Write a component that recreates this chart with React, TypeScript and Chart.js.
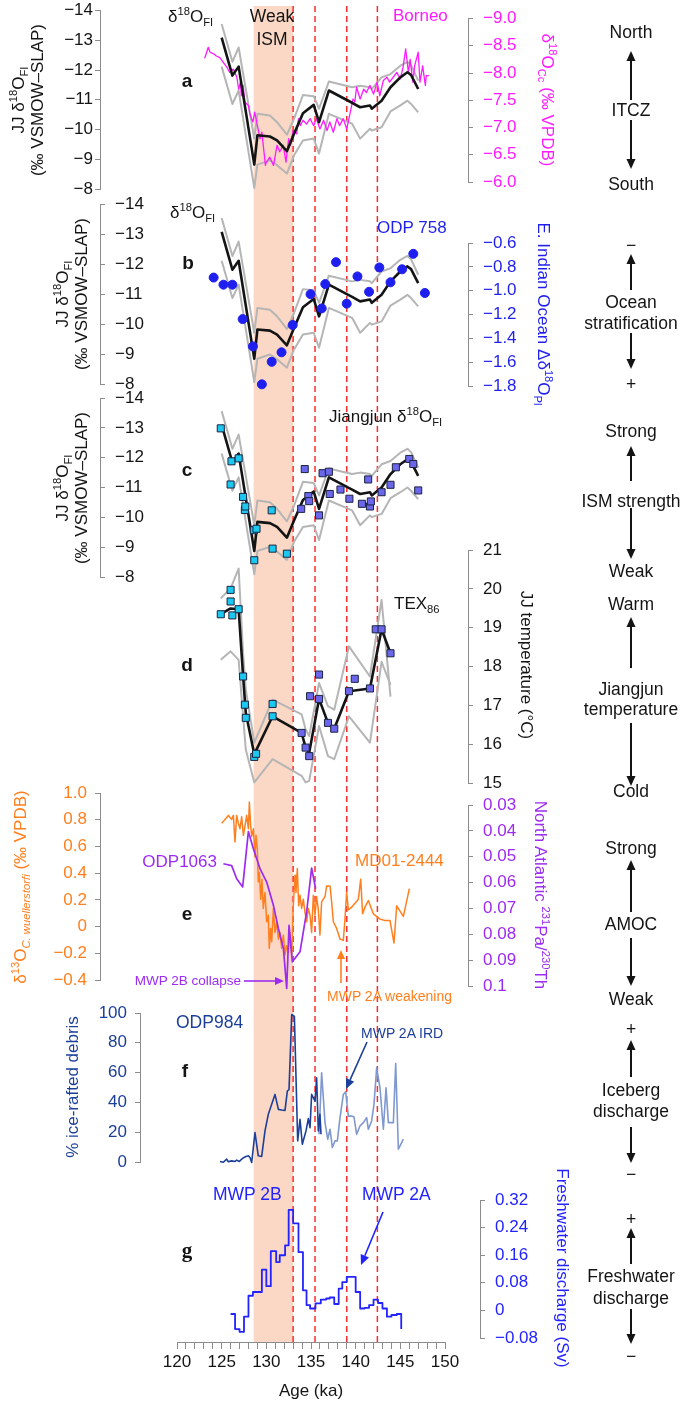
import React, { useEffect, useRef } from "react";
import { Chart, registerables } from "chart.js";

Chart.register(...registerables);

// ---------------- data ----------------
const weakIsmBand = [128.55, 133.0];
const dashedAges = [133.0, 135.45, 139.0, 142.43];

// Jiangjun JJ d18O fluid inclusion (mean and envelope)
const fiAge = [125.0, 126.2, 126.9, 128.65, 129.0, 130.4, 131.2, 132.3, 133.1, 134.1, 135.3, 135.9, 137.0, 139.6, 140.5, 141.6, 141.8, 142.9, 143.9, 145.0, 145.8, 146.2, 147.0];
const fiMean = [-13.24, -11.97, -12.27, -8.99, -9.97, -9.93, -9.8, -9.44, -10.02, -10.71, -10.99, -10.41, -11.47, -11.06, -10.91, -10.97, -10.86, -11.13, -11.58, -11.91, -12.08, -11.99, -11.52];
const fiHigh = [-13.7, -12.43, -12.91, -9.86, -10.69, -10.63, -10.41, -9.99, -10.52, -11.32, -11.28, -10.86, -11.77, -11.58, -11.63, -11.58, -11.52, -11.91, -12.02, -12.3, -12.43, -12.32, -11.8];
const fiLow = [-12.27, -11.02, -11.47, -8.21, -8.99, -9.13, -8.97, -8.69, -9.3, -9.8, -9.86, -9.36, -10.69, -10.36, -9.86, -10.19, -10.13, -10.24, -10.77, -10.97, -11.13, -11.02, -10.74];

// Borneo speleothem d18O
const borneoAge = [123.1, 123.5, 123.7, 124.1, 124.4, 124.8, 125.2, 125.6, 125.9, 126.3, 126.7, 126.9, 127.1, 127.2, 127.4, 127.6, 128.0, 128.2, 128.5, 128.7, 129.0, 129.3, 129.5, 129.9, 130.0, 130.4, 130.8, 131.2, 131.5, 131.9, 132.2, 132.5, 132.7, 133.0, 133.4, 133.6, 133.8, 134.1, 134.5, 134.9, 135.3, 135.6, 136.0, 136.4, 136.8, 137.1, 137.5, 137.9, 138.2, 138.6, 139.0, 139.4, 139.7, 139.9, 140.1, 140.5, 140.9, 141.2, 141.6, 142.0, 142.4, 142.7, 143.1, 143.5, 143.8, 144.2, 144.6, 145.0, 145.3, 145.6, 145.9, 146.1, 146.4, 146.6, 147.0, 147.2, 147.5, 147.8, 147.9, 148.2];
const borneoD18O = [-8.37, -8.57, -8.48, -8.45, -8.41, -8.38, -8.29, -8.2, -8.11, -8.17, -8.02, -7.8, -7.93, -7.68, -7.87, -7.56, -7.5, -7.32, -7.2, -7.38, -7.13, -6.89, -7.01, -6.4, -6.46, -6.55, -6.4, -6.77, -6.65, -6.77, -6.46, -6.89, -6.77, -7.04, -6.98, -7.26, -7.13, -7.23, -7.16, -7.26, -7.13, -7.26, -7.07, -7.23, -7.04, -7.2, -7.01, -7.26, -7.13, -7.26, -7.07, -7.38, -7.62, -7.56, -7.84, -7.62, -7.8, -7.74, -7.87, -7.71, -7.93, -7.68, -7.96, -8.02, -7.93, -8.02, -8.11, -7.99, -8.2, -8.54, -8.11, -8.35, -7.93, -8.23, -8.48, -7.93, -8.23, -7.87, -8.05, -8.05];

// ODP 758 E. Indian Ocean
const odp758Age = [124.1, 125.2, 126.2, 127.35, 128.5, 129.5, 130.6, 131.7, 132.95, 134.95, 136.2, 136.6, 137.8, 139.0, 140.2, 141.5, 142.65, 143.9, 145.2, 146.45, 147.75];
const odp758Val = [-0.85, -0.91, -0.91, -1.2, -1.43, -1.75, -1.56, -1.48, -1.25, -0.99, -1.11, -0.905, -0.72, -1.07, -0.84, -0.97, -0.765, -0.89, -0.78, -0.65, -0.98];

// Jiangjun individual d18O_FI samples
const jjCyanAge = [124.9, 126.0, 126.1, 126.9, 127.4, 127.6, 127.65, 128.6, 128.65, 128.9, 130.6, 130.7, 132.3];
const jjCyanVal = [-13.12, -11.23, -12.01, -12.11, -10.81, -10.37, -10.49, -9.69, -8.68, -9.74, -10.36, -9.07, -8.9];
const jjPurpleAge = [133.9, 134.3, 134.7, 134.8, 135.9, 136.3, 137.0, 137.1, 138.3, 139.3, 140.7, 141.4, 141.6, 141.7, 142.9, 143.9, 144.5, 146.0, 146.45, 147.0];
const jjPurpleVal = [-10.41, -11.75, -10.84, -10.67, -10.19, -11.61, -11.66, -10.91, -11.06, -10.75, -10.58, -11.4, -10.49, -10.66, -10.97, -11.22, -11.81, -12.09, -11.92, -11.03];

// TEX86 temperature
const texAge = [124.9, 126.0, 126.9, 127.4, 127.7, 128.65, 130.7, 133.95, 134.4, 134.8, 135.9, 136.9, 137.6, 139.25, 141.6, 142.9, 143.9];
const texMean = [19.43, 19.58, 19.56, 17.82, 16.88, 15.81, 16.79, 16.36, 15.98, 15.85, 17.24, 16.62, 16.47, 17.44, 17.51, 19.04, 18.42];
const texHigh = [19.84, 20.1, 20.61, 18.42, 17.48, 16.11, 17.22, 16.84, 16.45, 16.28, 17.65, 17.05, 16.96, 18.6, 17.82, 19.8, 17.3];
const texLow = [18.25, 18.47, 18.25, 16.79, 15.93, 15.08, 15.68, 15.25, 15.08, 15.12, 16.54, 15.76, 15.68, 16.79, 16.11, 18.2, 17.6];
const texCyanAge = [124.9, 126.0, 126.0, 126.2, 126.9, 127.4, 127.6, 127.7, 128.65, 128.85, 130.7, 130.7];
const texCyanVal = [19.43, 19.76, 20.06, 19.4, 19.56, 17.82, 17.09, 16.75, 15.74, 15.82, 17.11, 16.79];
const texPurpleAge = [133.95, 134.4, 134.8, 134.9, 135.9, 135.9, 136.9, 137.6, 139.25, 139.9, 141.6, 142.25, 142.9, 143.9];
const texPurpleVal = [16.36, 15.98, 15.76, 17.31, 17.87, 17.24, 16.62, 16.47, 17.44, 17.76, 17.51, 19.04, 19.04, 18.42];

// MD01-2444 d13C
const mdAge = [125.0, 125.75, 126.12, 126.31, 126.49, 126.68, 126.87, 127.05, 127.24, 127.43, 127.61, 127.8, 127.99, 128.1, 128.25, 128.36, 128.55, 128.73, 128.84, 128.99, 129.1, 129.22, 129.37, 129.51, 129.66, 129.85, 130.04, 130.22, 130.33, 130.48, 130.6, 130.79, 130.97, 131.16, 131.35, 131.53, 131.72, 131.91, 132.09, 132.28, 132.46, 132.65, 132.84, 133.02, 133.21, 133.32, 133.47, 133.62, 133.77, 133.95, 134.14, 134.33, 134.51, 134.7, 134.89, 135.07, 135.26, 135.45, 135.63, 135.82, 136.0, 136.19, 136.38, 136.57, 136.75, 137.13, 137.31, 137.5, 137.87, 138.24, 138.62, 138.8, 138.99, 139.18, 139.55, 140.3, 140.56, 140.78, 141.04, 141.42, 141.98, 142.72, 143.28, 143.84, 144.29, 144.59, 145.34, 146.01];
const mdD13C = [0.79, 0.85, 0.82, 0.85, 0.65, 0.85, 0.79, 0.75, 0.84, 0.7, 0.77, 0.85, 0.75, 0.95, 0.77, 0.69, 0.75, 0.54, 0.7, 0.6, 0.35, 0.42, 0.22, 0.37, 0.15, 0.27, 0.05, 0.1, -0.15, 0.0, -0.1, 0.15, -0.03, 0.05, -0.08, -0.03, -0.15, -0.05, -0.2, -0.13, -0.18, -0.03, -0.2, 0.17, 0.4, 0.27, 0.45, 0.17, 0.25, 0.15, 0.22, 0.12, 0.05, 0.15, 0.1, -0.03, 0.25, 0.1, 0.24, 0.14, -0.05, 0.2, 0.22, 0.24, 0.32, 0.32, 0.2, 0.05, 0.0, -0.08, -0.09, 0.07, 0.27, 0.14, 0.16, 0.22, 0.37, 0.11, 0.16, 0.21, 0.11, 0.07, 0.06, 0.06, -0.11, 0.17, 0.09, 0.3];

// ODP1063 Pa/Th
const paAge = [125.19, 126.12, 126.68, 127.35, 127.99, 128.55, 129.29, 130.04, 130.79, 131.35, 131.91, 132.28, 132.54, 132.91, 133.77, 134.51, 135.07, 135.52];
const paTh = [0.0519, 0.0526, 0.0577, 0.0609, 0.0394, 0.0461, 0.0538, 0.059, 0.068, 0.077, 0.0848, 0.1003, 0.0758, 0.09, 0.0861, 0.0706, 0.0536, 0.0616];

// ODP984 ice-rafted debris
const irdDarkAge = [124.81, 125.19, 125.56, 125.75, 126.12, 126.49, 126.68, 126.98, 127.24, 127.5, 127.72, 127.99, 128.17, 128.36, 128.73, 129.1, 129.48, 129.85, 130.22, 130.6, 130.97, 131.35, 131.72, 132.09, 132.35, 132.54, 132.84, 133.14, 133.51, 133.77, 134.03, 134.44, 134.7, 134.89, 135.07, 135.45, 135.63, 135.82, 136.0, 136.12];
const irdDarkVal = [0.9, 0.4, 2.5, 0.7, 1.3, 0.9, 1.8, 0.9, 2.5, 3.6, 4.3, 4.7, 3.6, 0.2, 20.4, 4.7, 4.3, 21.5, 32.7, 39.4, 46.1, 36.0, 35.6, 35.3, 48.3, 49.4, 100, 98.7, 14.8, 29.3, 12.5, 21.5, 29.8, 23.7, 46.1, 41.6, 57.3, 21.5, 32.7, 19.2];
const irdLightAge = [135.9, 136.19, 136.57, 136.87, 137.13, 137.39, 137.69, 137.95, 138.25, 138.62, 138.88, 139.18, 139.55, 139.81, 140.11, 140.48, 140.86, 141.23, 141.42, 141.79, 142.05, 142.35, 142.72, 143.1, 143.4, 143.66, 144.22, 144.48, 144.78, 145.34];
const irdLightVal = [19.2, 60.6, 27.1, 15.9, 22.6, 10.3, 14.8, 14.8, 30.4, 46.1, 47.9, 31.5, 31.5, 30.9, 19.2, 24.8, 27.1, 30.4, 22.6, 28.2, 39.4, 64.0, 50.6, 22.6, 50.6, 27.1, 27.1, 66.9, 9.2, 15.9];

// Freshwater discharge (stepped)
const fwAge = [126.0, 126.5, 127.0, 127.5, 128.0, 128.5, 129.5, 130.0, 130.5, 131.1, 131.5, 132.1, 132.5, 133.0, 133.6, 134.1, 134.5, 134.9, 135.5, 136.1, 136.7, 137.1, 137.6, 138.1, 138.5, 139.0, 140.0, 140.5, 141.0, 141.5, 142.0, 142.5, 143.0, 143.5, 144.0, 144.6, 145.1];
const fwSv = [-0.01, -0.054, -0.062, -0.018, 0.043, 0.054, 0.119, 0.071, 0.173, 0.141, 0.161, 0.19, 0.293, 0.254, 0.17, 0.059, 0.016, 0.006, 0.021, 0.032, 0.035, 0.038, 0.019, 0.064, 0.083, 0.098, 0.054, 0.006, 0.008, 0.016, 0.032, 0.022, 0.006, -0.018, -0.013, -0.01, -0.054];

// tick values and labels
const fiTicks = [-14, -13, -12, -11, -10, -9, -8];
const fiTickLabels = ["−14", "−13", "−12", "−11", "−10", "−9", "−8"];
const borneoTicks = [-9, -8.5, -8, -7.5, -7, -6.5, -6];
const borneoTickLabels = ["−9.0", "−8.5", "−8.0", "−7.5", "−7.0", "−6.5", "−6.0"];
const odpTicks = [-0.6, -0.8, -1.0, -1.2, -1.4, -1.6, -1.8];
const odpTickLabels = ["−0.6", "−0.8", "−1.0", "−1.2", "−1.4", "−1.6", "−1.8"];
const tempTicks = [21, 20, 19, 18, 17, 16, 15];
const tempTickLabels = ["21", "20", "19", "18", "17", "16", "15"];
const d13Ticks = [1.0, 0.8, 0.6, 0.4, 0.2, 0, -0.2, -0.4];
const d13TickLabels = ["1.0", "0.8", "0.6", "0.4", "0.2", "0", "−0.2", "−0.4"];
const paTicks = [0.03, 0.04, 0.05, 0.06, 0.07, 0.08, 0.09, 0.1];
const paTickLabels = ["0.03", "0.04", "0.05", "0.06", "0.07", "0.08", "0.09", "0.1"];
const irdTicks = [100, 80, 60, 40, 20, 0];
const irdTickLabels = ["100", "80", "60", "40", "20", "0"];
const fwTicks = [0.32, 0.24, 0.16, 0.08, 0, -0.08];
const fwTickLabels = ["0.32", "0.24", "0.16", "0.08", "0", "−0.08"];
const ageTicks = [120, 121, 122, 123, 124, 125, 126, 127, 128, 129, 130, 131, 132, 133, 134, 135, 136, 137, 138, 139, 140, 141, 142, 143, 144, 145, 146, 147, 148, 149, 150];
const ageTickLabels = ["120", "125", "130", "135", "140", "145", "150"];

// ---------------- layout & style ----------------
const W = 685;
const H = 1404;
const X_LEFT = 177;
const X_RIGHT = 445;
const AREA_TOP = 0;
const AREA_BOTTOM = 1342;

const FONT = "'Liberation Sans', Arial, Helvetica, sans-serif";
const SERIF = "'Liberation Serif', 'Times New Roman', serif";
const AXIS_GREY = "#8c8c8c";
const BLACK = "#141414";
const MAGENTA = "#ff1aff";
const BLUE = "#1f1fef";
const ORANGE = "#ff7f1e";
const PURPLE = "#9d2bf2";
const NAVY = "#1c3f99";
const NAVY_LIGHT = "#7f99cf";
const FW_BLUE = "#2323ff";
const RED = "#ff2b2b";
const BAND = "#fbd8c5";
const ENVELOPE = "#b5b5b5";
const CYAN = "#1cc8ef";
const SLATE = "#6b66ea";
const MARK_EDGE = "#1b2440";

type Geo = { top: number; bottom: number; vTop: number; vBottom: number };

const GEO: Record<string, Geo> = {
  yBg: { top: 0, bottom: 1342, vTop: 1, vBottom: 0 },
  yFiA: { top: 9, bottom: 189, vTop: -14, vBottom: -8 },
  yBor: { top: 18, bottom: 182, vTop: -9, vBottom: -6 },
  yFiB: { top: 204, bottom: 384, vTop: -14, vBottom: -8 },
  yOdp: { top: 243, bottom: 386, vTop: -0.6, vBottom: -1.8 },
  yFiC: { top: 398, bottom: 577, vTop: -14, vBottom: -8 },
  yTex: { top: 550, bottom: 783, vTop: 21, vBottom: 15 },
  yD13: { top: 793, bottom: 980, vTop: 1.0, vBottom: -0.4 },
  yPa: { top: 805, bottom: 986, vTop: 0.03, vBottom: 0.1 },
  yIrd: { top: 1013, bottom: 1162, vTop: 100, vBottom: 0 },
  yFw: { top: 1200, bottom: 1338, vTop: 0.32, vBottom: -0.08 },
};

type AxisDef = {
  geo: string;
  side: "left" | "right";
  spine: number;
  ticks: number[];
  labels: string[];
  color: string;
  mirror?: boolean;
  pad: number;
};

const AXES: AxisDef[] = [
  { geo: "yFiA", side: "left", spine: 100, ticks: fiTicks, labels: fiTickLabels, color: BLACK, pad: 2 },
  { geo: "yBor", side: "right", spine: 468, ticks: borneoTicks, labels: borneoTickLabels, color: MAGENTA, pad: 10 },
  { geo: "yFiB", side: "left", spine: 100, ticks: fiTicks, labels: fiTickLabels, color: BLACK, mirror: true, pad: 15 },
  { geo: "yOdp", side: "right", spine: 468, ticks: odpTicks, labels: odpTickLabels, color: BLUE, pad: 10 },
  { geo: "yFiC", side: "left", spine: 100, ticks: fiTicks, labels: fiTickLabels, color: BLACK, mirror: true, pad: 15 },
  { geo: "yTex", side: "right", spine: 468, ticks: tempTicks, labels: tempTickLabels, color: BLACK, pad: 10 },
  { geo: "yD13", side: "left", spine: 100, ticks: d13Ticks, labels: d13TickLabels, color: ORANGE, pad: 8 },
  { geo: "yPa", side: "right", spine: 468, ticks: paTicks, labels: paTickLabels, color: PURPLE, pad: 10 },
  { geo: "yIrd", side: "left", spine: 140, ticks: irdTicks, labels: irdTickLabels, color: NAVY, pad: 8 },
  { geo: "yFw", side: "right", spine: 480, ticks: fwTicks, labels: fwTickLabels, color: FW_BLUE, pad: 10 },
];

const labelFor = (ticks: number[], labels: string[], v: number) => {
  const i = ticks.findIndex((t) => Math.abs(t - v) < 1e-9);
  return i >= 0 ? labels[i] : "";
};

function axisChartConfig(a: AxisDef): any {
  const AW = 60;
  const g = GEO[a.geo];
  return {
    type: "line",
    data: { datasets: [] },
    options: {
      animation: false,
      responsive: false,
      maintainAspectRatio: false,
      devicePixelRatio: 1,
      events: [],
      layout: {
        padding: {
          left: a.side === "left" ? a.spine - AW : X_LEFT,
          right: a.side === "right" ? W - a.spine - AW : W - X_RIGHT,
          top: g.top,
          bottom: H - g.bottom,
        },
      },
      plugins: { legend: { display: false }, tooltip: { enabled: false } },
      scales: {
        x: { type: "linear", display: false, min: 0, max: 1 },
        y: {
          type: "linear",
          position: a.side,
          min: Math.min(g.vTop, g.vBottom),
          max: Math.max(g.vTop, g.vBottom),
          reverse: g.vTop < g.vBottom,
          afterFit: (s: any) => {
            s.width = AW;
          },
          afterBuildTicks: (s: any) => {
            s.ticks = a.ticks.map((v) => ({ value: v }));
          },
          grid: { drawOnChartArea: false, drawTicks: true, tickLength: a.mirror ? -5 : 5, color: AXIS_GREY, lineWidth: 1 },
          border: { display: true, color: AXIS_GREY, width: 1 },
          ticks: {
            autoSkip: false,
            mirror: !!a.mirror,
            padding: a.pad,
            color: a.color,
            font: { family: FONT, size: 17, lineHeight: 1 },
            callback: (v: number) => labelFor(a.ticks, a.labels, v),
          },
        },
      },
    },
  };
}

function hiddenY(g: Geo) {
  const f = (py: number) => g.vTop + ((g.vBottom - g.vTop) * (py - g.top)) / (g.bottom - g.top);
  const a = f(AREA_TOP);
  const b = f(AREA_BOTTOM);
  return { axis: "y", type: "linear", display: false, min: Math.min(a, b), max: Math.max(a, b), reverse: g.vTop < g.vBottom };
}

const pts = (xs: number[], ys: number[]) => xs.map((x, i) => ({ x, y: ys[i] }));

function line(xs: number[], ys: number[], yAxisID: string, color: string, width: number, extra: any = {}) {
  return {
    type: "line",
    data: pts(xs, ys),
    xAxisID: "x",
    yAxisID,
    borderColor: color,
    backgroundColor: color,
    borderWidth: width,
    pointRadius: 0,
    pointHoverRadius: 0,
    tension: 0,
    fill: false,
    clip: false,
    borderJoinStyle: "round",
    ...extra,
  };
}

function marks(xs: number[], ys: number[], yAxisID: string, style: string, fill: string, radius: number, edge: string) {
  return {
    type: "line",
    showLine: false,
    data: pts(xs, ys),
    xAxisID: "x",
    yAxisID,
    pointStyle: style,
    pointRadius: radius,
    pointHoverRadius: radius,
    pointBackgroundColor: fill,
    pointBorderColor: edge,
    pointBorderWidth: 1,
    borderColor: fill,
    backgroundColor: fill,
    fill: false,
    clip: false,
  };
}

function dataChartConfig(): any {
  const datasets: any[] = [
    {
      type: "line",
      data: [
        { x: weakIsmBand[0], y: 1 },
        { x: weakIsmBand[1], y: 1 },
      ],
      xAxisID: "x",
      yAxisID: "yBg",
      fill: "start",
      backgroundColor: BAND,
      borderColor: "rgba(0,0,0,0)",
      borderWidth: 0,
      pointRadius: 0,
      clip: false,
    },
    ...dashedAges.map((a) => line([a, a], [0, 1], "yBg", RED, 1.5, { borderDash: [6, 4] })),
    // a
    line(fiAge, fiHigh, "yFiA", ENVELOPE, 2),
    line(fiAge, fiLow, "yFiA", ENVELOPE, 2),
    line(borneoAge, borneoD18O, "yBor", MAGENTA, 1.3),
    line(fiAge, fiMean, "yFiA", BLACK, 2.6),
    // b
    line(fiAge, fiHigh, "yFiB", ENVELOPE, 2),
    line(fiAge, fiLow, "yFiB", ENVELOPE, 2),
    line(fiAge, fiMean, "yFiB", BLACK, 2.6),
    marks(odp758Age, odp758Val, "yOdp", "circle", BLUE, 4.5, BLUE),
    // c
    line(fiAge, fiHigh, "yFiC", ENVELOPE, 2),
    line(fiAge, fiLow, "yFiC", ENVELOPE, 2),
    line(fiAge, fiMean, "yFiC", BLACK, 2.6),
    marks(jjCyanAge, jjCyanVal, "yFiC", "rect", CYAN, 5, MARK_EDGE),
    marks(jjPurpleAge, jjPurpleVal, "yFiC", "rect", SLATE, 5, MARK_EDGE),
    // d
    line(texAge, texHigh, "yTex", ENVELOPE, 2),
    line(texAge, texLow, "yTex", ENVELOPE, 2),
    line(texAge, texMean, "yTex", BLACK, 2.6),
    marks(texCyanAge, texCyanVal, "yTex", "rect", CYAN, 5, MARK_EDGE),
    marks(texPurpleAge, texPurpleVal, "yTex", "rect", SLATE, 5, MARK_EDGE),
    // e
    line(mdAge, mdD13C, "yD13", ORANGE, 1.5),
    line(paAge, paTh, "yPa", PURPLE, 1.7),
    // f
    line(irdLightAge, irdLightVal, "yIrd", NAVY_LIGHT, 1.6),
    line(irdDarkAge, irdDarkVal, "yIrd", NAVY, 1.6),
    // g
    line(fwAge, fwSv, "yFw", FW_BLUE, 1.8, { stepped: "before" }),
  ];
  datasets.forEach((d, i) => {
    d.order = datasets.length - i;
  });

  const scales: any = {
    x: {
      type: "linear",
      position: "bottom",
      min: 120,
      max: 150,
      afterFit: (s: any) => {
        s.height = 60;
      },
      afterBuildTicks: (s: any) => {
        s.ticks = ageTicks.map((v) => ({ value: v }));
      },
      grid: { drawOnChartArea: false, drawTicks: true, tickLength: 7, color: AXIS_GREY, lineWidth: 1 },
      border: { display: true, color: AXIS_GREY, width: 1 },
      ticks: {
        autoSkip: false,
        maxRotation: 0,
        padding: 5,
        color: BLACK,
        font: { family: FONT, size: 17, lineHeight: 1 },
        callback: (v: number) => (ageTickLabels.includes(String(v)) ? String(v) : ""),
      },
      title: {
        display: true,
        text: "Age (ka)",
        color: BLACK,
        font: { family: FONT, size: 17 },
        padding: { top: 0, bottom: 0 },
      },
    },
  };
  Object.keys(GEO).forEach((id) => {
    scales[id] = hiddenY(GEO[id]);
  });

  return {
    type: "line",
    data: { datasets },
    options: {
      animation: false,
      responsive: false,
      maintainAspectRatio: false,
      devicePixelRatio: 1,
      events: [],
      layout: { padding: { left: X_LEFT, right: W - X_RIGHT, top: AREA_TOP, bottom: H - AREA_BOTTOM - 60 } },
      plugins: { legend: { display: false }, tooltip: { enabled: false } },
      scales,
    },
  };
}

// ---------------- text helpers ----------------
const Sup = ({ c }: { c: string }) => (
  <span style={{ fontSize: "0.66em", position: "relative", top: "-0.6em" }}>{c}</span>
);
const Sub = ({ c, it }: { c: string; it?: boolean }) => (
  <span style={{ fontSize: "0.66em", position: "relative", top: "0.35em", fontStyle: it ? "italic" : "normal" }}>{c}</span>
);

function Txt(p: {
  x: number;
  y: number;
  anchor?: "start" | "middle" | "end";
  rot?: number;
  size?: number;
  color?: string;
  weight?: number;
  family?: string;
  children: React.ReactNode;
}) {
  const tx = p.anchor === "start" ? "0%" : p.anchor === "end" ? "-100%" : "-50%";
  return (
    <div
      style={{
        position: "absolute",
        left: p.x,
        top: p.y,
        transform: `translate(${tx}, -50%)${p.rot ? ` rotate(${p.rot}deg)` : ""}`,
        fontSize: p.size ?? 17,
        color: p.color ?? BLACK,
        fontWeight: p.weight ?? 400,
        fontFamily: p.family ?? FONT,
        whiteSpace: "nowrap",
        lineHeight: 1,
      }}
    >
      {p.children}
    </div>
  );
}

function Arrow({ x1, y1, x2, y2, color, w = 2, head = 10, hw = 4.5 }: any) {
  const ang = Math.atan2(y2 - y1, x2 - x1);
  const hx = x2 - head * Math.cos(ang);
  const hy = y2 - head * Math.sin(ang);
  const px = -Math.sin(ang) * hw;
  const py = Math.cos(ang) * hw;
  return (
    <g>
      <line x1={x1} y1={y1} x2={hx} y2={hy} stroke={color} strokeWidth={w} />
      <polygon points={`${x2},${y2} ${hx + px},${hy + py} ${hx - px},${hy - py}`} fill={color} />
    </g>
  );
}

const COL_X = 631;
const columnArrows: [number, number][] = [
  [100, 51], [120, 169], [290, 254], [333, 369], [481, 446], [508, 559], [668, 617],
  [723, 786], [912, 860], [938, 986], [1077, 1040], [1127, 1163], [1264, 1228], [1309, 1344],
];
const columnText: [number, string][] = [
  [33, "North"], [111, "ITCZ"], [185, "South"],
  [246, "−"], [303, "Ocean"], [324, "stratification"], [385, "+"],
  [432, "Strong"], [502, "ISM strength"], [572, "Weak"],
  [605, "Warm"], [690, "Jiangjun"], [710, "temperature"], [792, "Cold"],
  [849, "Strong"], [925, "AMOC"], [1000, "Weak"],
  [1030, "+"], [1091, "Iceberg"], [1112, "discharge"], [1175, "−"],
  [1220, "+"], [1277, "Freshwater"], [1299, "discharge"], [1357, "−"],
];

const canvasStyle: React.CSSProperties = { position: "absolute", left: 0, top: 0, width: W, height: H, pointerEvents: "none" };

export default function App() {
  const dataRef = useRef<HTMLCanvasElement | null>(null);
  const axisRefs = useRef<(HTMLCanvasElement | null)[]>([]);

  useEffect(() => {
    const charts: Chart[] = [];
    if (dataRef.current) charts.push(new Chart(dataRef.current, dataChartConfig()));
    AXES.forEach((a, i) => {
      const c = axisRefs.current[i];
      if (c) charts.push(new Chart(c, axisChartConfig(a)));
    });
    return () => charts.forEach((c) => c.destroy());
  }, []);

  const fi = (
    <>
      δ<Sup c="18" />O<Sub c="FI" />
    </>
  );

  return (
    <div style={{ position: "fixed", left: 0, top: 0, width: W, height: H, background: "#fff", overflow: "hidden", fontFamily: FONT }}>
      <canvas ref={dataRef} width={W} height={H} style={canvasStyle} />
      {AXES.map((a, i) => (
        <canvas
          key={a.geo}
          ref={(el) => {
            axisRefs.current[i] = el;
          }}
          width={W}
          height={H}
          style={canvasStyle}
        />
      ))}

      <svg width={W} height={H} style={{ position: "absolute", left: 0, top: 0, pointerEvents: "none" }}>
        {columnArrows.map(([a, b], i) => (
          <Arrow key={i} x1={COL_X} y1={a} x2={COL_X} y2={b} color={BLACK} w={2} head={10} hw={4.5} />
        ))}
        <Arrow x1={244} y1={981} x2={284} y2={981} color={PURPLE} w={1.6} head={9} hw={4} />
        <Arrow x1={341} y1={983} x2={341} y2={950} color={ORANGE} w={1.6} head={9} hw={4} />
        <Arrow x1={367} y1={1042} x2={346} y2={1089} color={NAVY} w={1.6} head={10} hw={4.5} />
        <Arrow x1={383} y1={1212} x2={361} y2={1265} color={FW_BLUE} w={1.6} head={10} hw={4.5} />
      </svg>

      {/* right column */}
      {columnText.map(([y, t], i) => (
        <Txt key={i} x={COL_X} y={y} size={17.5}>
          {t}
        </Txt>
      ))}

      {/* left axis titles */}
      <Txt x={18} y={100} rot={-90}>JJ {fi}</Txt>
      <Txt x={37} y={100} rot={-90}>(‰ VSMOW–SLAP)</Txt>
      <Txt x={62} y={294} rot={-90}>JJ {fi}</Txt>
      <Txt x={81} y={294} rot={-90}>(‰ VSMOW–SLAP)</Txt>
      <Txt x={62} y={488} rot={-90}>JJ {fi}</Txt>
      <Txt x={81} y={488} rot={-90}>(‰ VSMOW–SLAP)</Txt>
      <Txt x={20} y={887} rot={-90} color={ORANGE}>
        δ<Sup c="13" />O<Sub c="C. wuellerstorfi" it /> (‰ VPDB)
      </Txt>
      <Txt x={72} y={1087} rot={-90} color={NAVY}>% ice-rafted debris</Txt>

      {/* right axis titles */}
      <Txt x={547} y={100} rot={90} color={MAGENTA}>
        δ<Sup c="18" />O<Sub c="Cc" /> (‰ VPDB)
      </Txt>
      <Txt x={543} y={314} rot={90} color={BLUE}>
        E. Indian Ocean Δδ<Sup c="18" />O<Sub c="Pl" />
      </Txt>
      <Txt x={526} y={665} rot={90}>JJ temperature (°C)</Txt>
      <Txt x={540} y={895} rot={90} color={PURPLE}>
        North Atlantic <Sup c="231" />Pa/<Sup c="230" />Th
      </Txt>
      <Txt x={562} y={1268} rot={90} color={FW_BLUE}>Freshwater discharge (Sv)</Txt>

      {/* panel letters */}
      <Txt x={187} y={80} size={19} weight={700}>a</Txt>
      <Txt x={188} y={262} size={19} weight={700}>b</Txt>
      <Txt x={187} y={469} size={19} weight={700}>c</Txt>
      <Txt x={187} y={664} size={19} weight={700}>d</Txt>
      <Txt x={187} y={913} size={19} weight={700}>e</Txt>
      <Txt x={185} y={1070} size={19} weight={700}>f</Txt>
      <Txt x={187} y={1250} size={21} weight={700} family={SERIF}>g</Txt>

      {/* in-plot labels */}
      <Txt x={168} y={16} anchor="start">{fi}</Txt>
      <Txt x={272} y={17} size={17.5}>Weak</Txt>
      <Txt x={272} y={40} size={17.5}>ISM</Txt>
      <Txt x={393} y={15} anchor="start" color={MAGENTA}>Borneo</Txt>
      <Txt x={170} y={212} anchor="start">{fi}</Txt>
      <Txt x={377} y={227} anchor="start" color={BLUE}>ODP 758</Txt>
      <Txt x={329} y={416} anchor="start">Jiangjun {fi}</Txt>
      <Txt x={394} y={603} anchor="start">
        TEX<Sub c="86" />
      </Txt>
      <Txt x={217} y={861} anchor="end" color={PURPLE}>ODP1063</Txt>
      <Txt x={355} y={860} anchor="start" color={ORANGE}>MD01-2444</Txt>
      <Txt x={241} y={981} anchor="end" size={13.5} color={PURPLE}>MWP 2B collapse</Txt>
      <Txt x={327} y={996} anchor="start" size={14} color={ORANGE}>MWP 2A weakening</Txt>
      <Txt x={176} y={1023} anchor="start" size={17.5} color={NAVY}>ODP984</Txt>
      <Txt x={361} y={1033} anchor="start" size={14} color={NAVY}>MWP 2A IRD</Txt>
      <Txt x={213} y={1195} anchor="start" size={17.5} color={FW_BLUE}>MWP 2B</Txt>
      <Txt x={362} y={1195} anchor="start" size={17.5} color={FW_BLUE}>MWP 2A</Txt>
    </div>
  );
}
